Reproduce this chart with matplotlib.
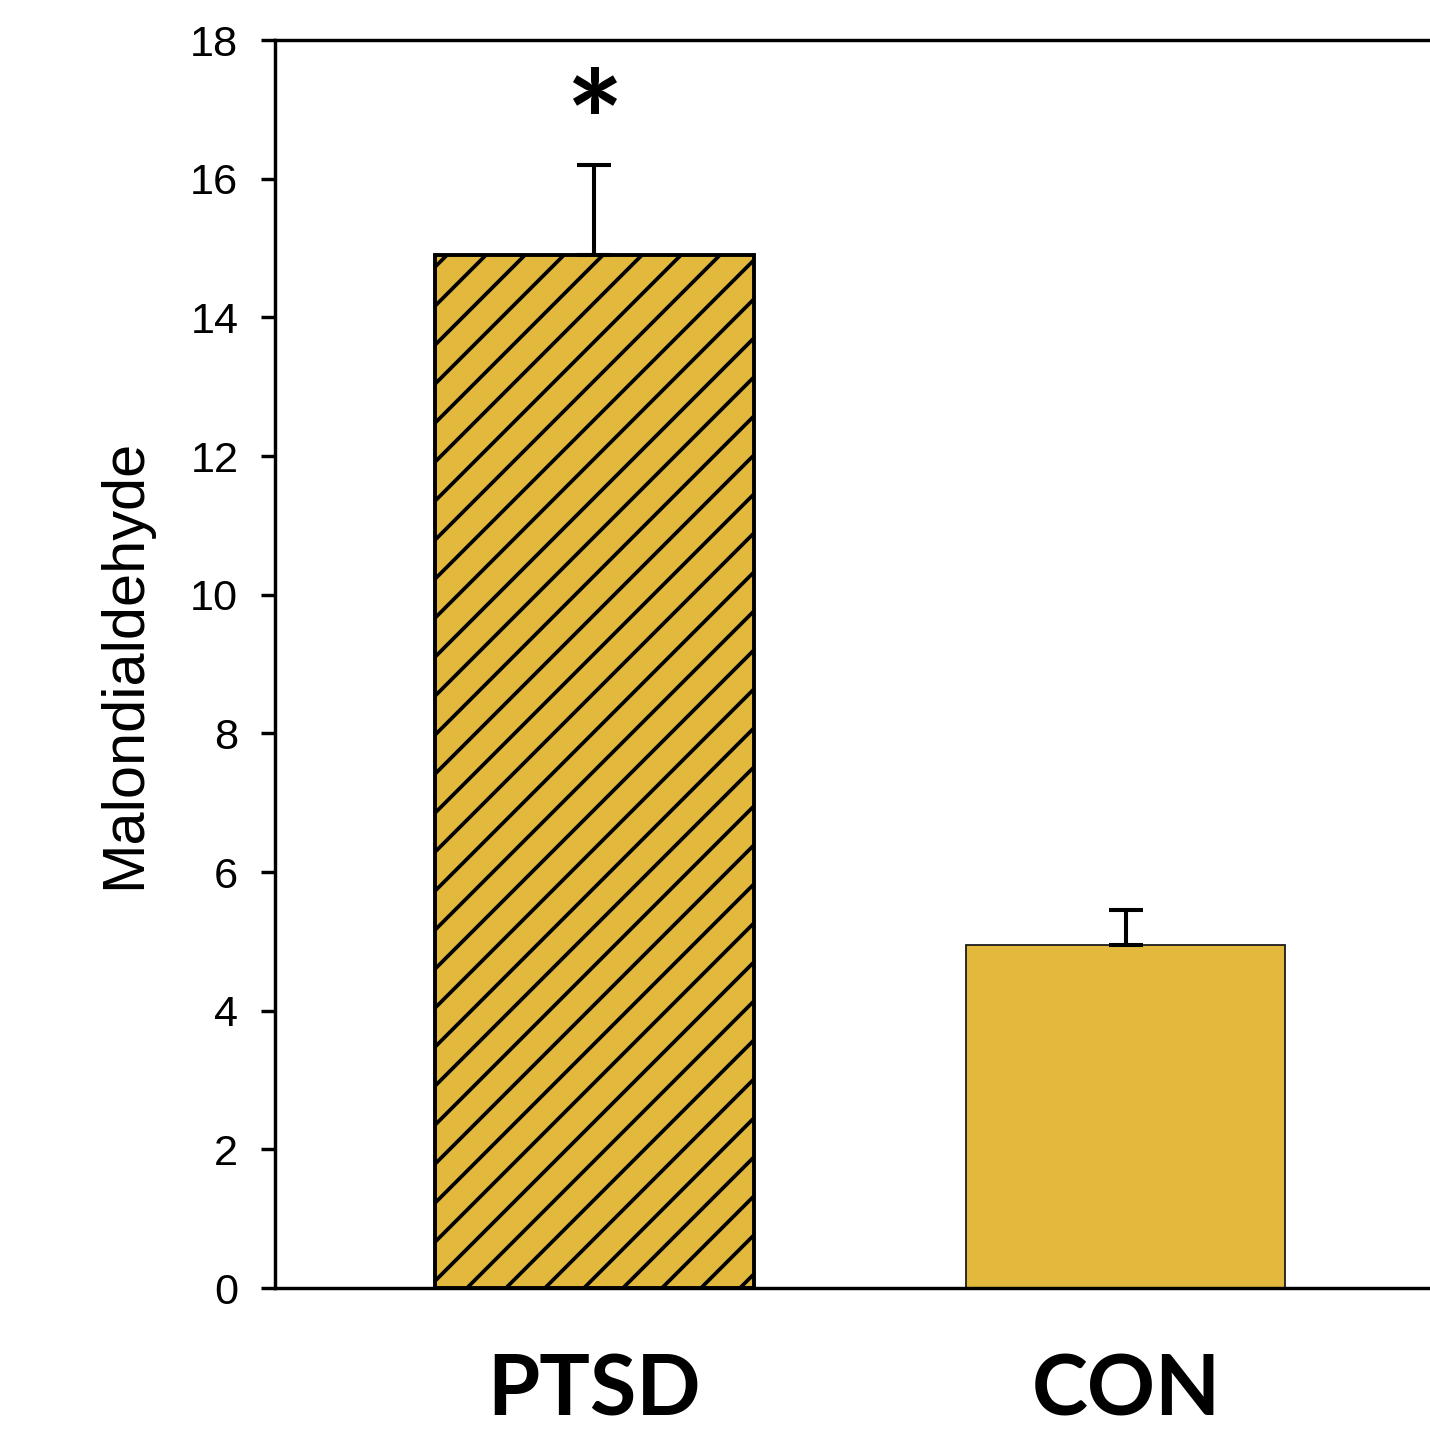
import matplotlib
matplotlib.use("Agg")
import matplotlib.pyplot as plt

# Data
groups = ["PTSD", "CON"]
means = [14.9, 4.95]
sem_upper = [1.3, 0.5]
hatches = ["//", ""]
edge_widths = [1.2, 0.55]
yticks = [0, 2, 4, 6, 8, 10, 12, 14, 16, 18]
ylabel = "Malondialdehyde"
sig_marks = ["*", ""]

DPI = 234
W, H = 1430, 1441
bar_color = "#E2B93C"

plt.rcParams["hatch.linewidth"] = 1.15
plt.rcParams["font.family"] = ["Liberation Sans", "DejaVu Sans"]

fig = plt.figure(figsize=(W / DPI, H / DPI), dpi=DPI)
left_px, right_px, top_px, bottom_px = 275, 1445, 40, 1288
ax = fig.add_axes([left_px / W, (H - bottom_px) / H,
                   (right_px - left_px) / W, (bottom_px - top_px) / H])

x = list(range(len(groups)))
bars = ax.bar(x, means, width=0.6, color=bar_color, edgecolor="black",
              linewidth=edge_widths, zorder=2)
for b, h in zip(bars, hatches):
    b.set_hatch(h)
bars[1].set_edgecolor("#1a1a1a")

ax.errorbar(x, means, yerr=[[0] * len(means), sem_upper], fmt="none",
            ecolor="black", elinewidth=1.25, capsize=5.2, capthick=1.25, zorder=3)

for xi, m, e, s in zip(x, means, sem_upper, sig_marks):
    if s:
        ax.text(xi, m + e - 0.43, s, ha="center", va="bottom",
                fontsize=42, fontweight="bold", family=["Lato", "DejaVu Sans"])

ax.set_xlim(-0.6, 1.6)
ax.set_ylim(0, 18)
ax.set_yticks(yticks)
ax.set_yticklabels([str(t) for t in yticks], fontsize=13.3)
ax.tick_params(axis="y", direction="out", length=4.3, width=1.05, pad=7)
ax.set_xticks(x)
ax.set_xticklabels(groups, fontsize=26, fontweight="bold",
                   family=["Lato", "DejaVu Sans"])
ax.tick_params(axis="x", length=0, pad=20)

for sp in ax.spines.values():
    sp.set_linewidth(1.05)

ax.set_ylabel(ylabel, fontsize=18.3)
ax.yaxis.set_label_coords(-0.105, 0.5)

fig.savefig("out.png", dpi=DPI)
